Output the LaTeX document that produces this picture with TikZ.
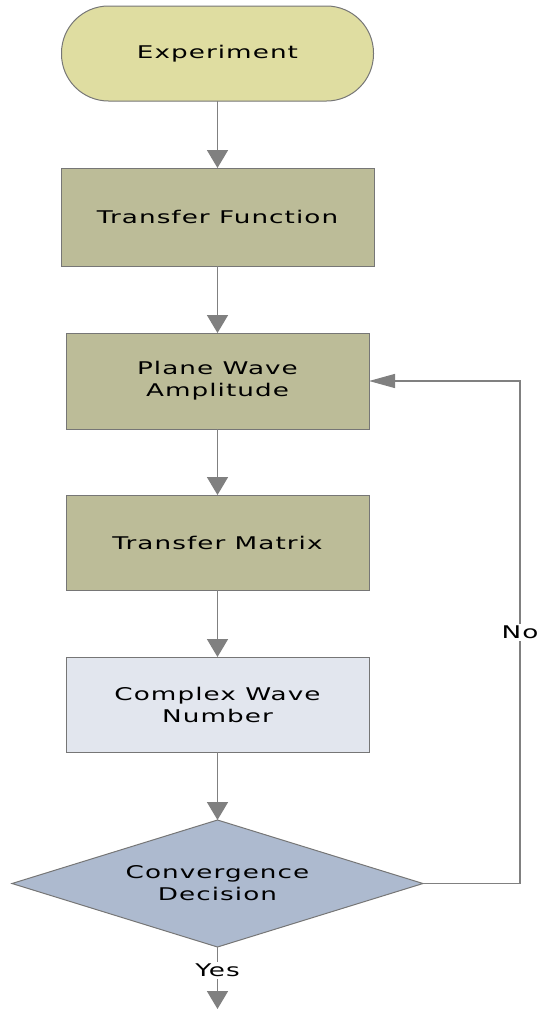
\documentclass[tikz,border=0pt]{standalone}
\usepackage{fontspec}
\setmainfont{DejaVu Sans}[FakeStretch=1.5,LetterSpace=6]
\usetikzlibrary{shapes.geometric,arrows.meta}
\definecolor{startfill}{RGB}{223,221,161}
\definecolor{procfill}{RGB}{188,188,152}
\definecolor{lightfill}{RGB}{226,230,238}
\definecolor{decfill}{RGB}{173,186,207}
\definecolor{edgegray}{RGB}{128,128,128}
\definecolor{bordergray}{RGB}{118,118,118}
\begin{document}
\begin{tikzpicture}[x=1pt,y=-1pt,
  base/.style={draw=bordergray, line width=1pt, align=center, inner sep=0pt, outer sep=0pt,
    font=\fontsize{17.5}{22}\selectfont},
  startbox/.style={base, fill=startfill, rounded corners=47pt, minimum width=312pt, minimum height=95pt},
  procbox/.style={base, fill=procfill, rectangle, minimum height=96pt},
  lightbox/.style={base, fill=lightfill, rectangle, minimum height=96pt},
  decbox/.style={base, fill=decfill, diamond, aspect=3.24, minimum width=411pt, minimum height=127pt},
  arr/.style={draw=edgegray, line width=1.8pt, -{Triangle[length=18pt,width=21pt]}},
  harr/.style={draw=edgegray, line width=1.3pt, -{Triangle[length=26pt,width=14pt]}},
  lbl/.style={fill=white, inner sep=2pt, font=\fontsize{17.5}{20}\selectfont}
]
\useasboundingbox (0,0) rectangle (539,1010);
\node[startbox] (exp) at (217.5,53.5) {Experiment};
\node[procbox, minimum width=313pt, minimum height=98pt] (tf) at (217.5,217) {Transfer Function};
\node[procbox, minimum width=303pt] (pwa) at (217.5,381) {Plane Wave\\Amplitude};
\node[procbox, minimum width=303pt, minimum height=95pt] (tm) at (217.5,542.5) {Transfer Matrix};
\node[lightbox, minimum width=303pt, minimum height=95pt] (cwn) at (217.5,704.5) {Complex Wave\\Number};
\node[decbox] (dec) at (217.5,883.5) {Convergence\\Decision};
\coordinate (end) at (217.5,1009);
\coordinate (c1) at (520,883.5);
\coordinate (c2) at (520,381);

\draw[arr] (exp) -- (tf);
\draw[arr] (tf) -- (pwa);
\draw[arr] (pwa) -- (tm);
\draw[arr] (tm) -- (cwn);
\draw[arr] (cwn) -- (dec);
\draw[arr] (dec) -- node[lbl, pos=0.38] (yes) {Yes} (end);
\draw[harr] (dec.east) -- (c1) -- node[lbl] (no) {No} (c2) -- (pwa.east);
\end{tikzpicture}
\end{document}
